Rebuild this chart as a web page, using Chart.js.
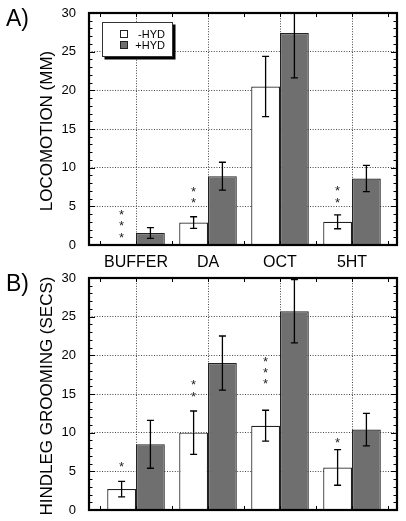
<!DOCTYPE html>
<html>
<head>
<meta charset="utf-8">
<script src="https://cdn.jsdelivr.net/npm/chart.js@4/dist/chart.umd.min.js"></script>
<style>
  html, body { margin: 0; padding: 0; background: #fff; }
  #wrap { position: relative; width: 406px; height: 521px; overflow: hidden; }
  canvas { position: absolute; left: 0; }
  #cA { top: 0; }
  #cB { top: 265px; }
</style>
</head>
<body>
<div id="wrap">
  <canvas id="cA" width="406" height="275"></canvas>
  <canvas id="cB" width="406" height="256"></canvas>
</div>
<script>
// data
const categories = ["BUFFER", "DA", "OCT", "5HT"];
const seriesNames = ["-HYD", "+HYD"];

const locoMinus = [0, 2.9, 20.5, 3.0];
const locoMinusErr = [null, 0.75, 3.9, 0.9];
const locoPlus = [1.55, 8.9, 27.4, 8.6];
const locoPlusErr = [0.7, 1.8, 5.8, 1.7];
const locoStars = [3, 2, 0, 2];
const locoStarY = [1.3, 5.7, null, 5.8];

const groomMinus = [2.7, 10.0, 10.9, 5.5];
const groomMinusErr = [1.0, 2.8, 2.0, 2.3];
const groomPlus = [8.5, 19.0, 25.7, 10.4];
const groomPlusErr = [3.1, 3.5, 4.1, 2.1];
const groomStars = [1, 2, 3, 1];
const groomStarY = [5.9, 15.0, 16.6, 9.0];

const yTicks = [0, 5, 10, 15, 20, 25, 30];
const gridX = [0.5, 1.5, 2.5];

const FONT = '"Liberation Sans", Arial, sans-serif';
const WHITE = "#ffffff";
const GRAY = "#6f6f6f";
const X_MIN = -0.653, X_MAX = 3.625;

function makePanel(canvasId, opt) {
  const { minus, minusErr, plus, plusErr, stars, starY, title, label, showX, showLegend, xHeight } = opt;

  const extras = {
    id: "extras_" + canvasId,
    afterDatasetsDraw(chart) {
      const ctx = chart.ctx;
      const y = chart.scales.y;
      const area = chart.chartArea;
      ctx.save();
      ctx.beginPath();
      ctx.rect(area.left, area.top - 1, area.right - area.left, area.bottom - area.top + 1);
      ctx.clip();
      // error bars
      const errs = [minusErr, plusErr];
      [minus, plus].forEach((vals, d) => {
        const meta = chart.getDatasetMeta(d);
        vals.forEach((v, i) => {
          const e = errs[d][i];
          if (e == null) return;
          const bx = meta.data[i].x;
          const yt = y.getPixelForValue(v + e);
          const yb = y.getPixelForValue(v - e);
          ctx.strokeStyle = "#000";
          ctx.lineWidth = 1.3;
          ctx.beginPath();
          ctx.moveTo(bx, yt); ctx.lineTo(bx, yb);
          ctx.moveTo(bx - 3.5, yt); ctx.lineTo(bx + 3.5, yt);
          ctx.moveTo(bx - 3.5, yb); ctx.lineTo(bx + 3.5, yb);
          ctx.stroke();
        });
      });
      ctx.restore();

      // asterisks
      const meta0 = chart.getDatasetMeta(0);
      ctx.save();
      ctx.fillStyle = "#222";
      ctx.font = "13px " + FONT;
      ctx.textAlign = "center";
      ctx.textBaseline = "middle";
      stars.forEach((n, i) => {
        if (!n) return;
        const bx = meta0.data[i].x;
        const y0 = y.getPixelForValue(starY[i]);
        for (let k = 0; k < n; k++) {
          ctx.fillText("*", bx, y0 - k * 11.3 + 3);
        }
      });
      ctx.restore();
    },
    afterDraw(chart) {
      const ctx = chart.ctx;
      const { left, right, top, bottom } = chart.chartArea;
      const y = chart.scales.y;
      const x = chart.scales.x;
      ctx.save();
      ctx.strokeStyle = "#000";
      // ticks ke dalam
      ctx.lineWidth = 1;
      ctx.beginPath();
      for (let v = 0; v <= 30; v++) {
        const py = Math.round(y.getPixelForValue(v)) + 0.5;
        const len = v % 5 === 0 ? 6 : 3.5;
        ctx.moveTo(left, py); ctx.lineTo(left + len, py);
        ctx.moveTo(right, py); ctx.lineTo(right - len, py);
      }
      for (let v = -0.5; v <= 3.5; v += 0.5) {
        const px = Math.round(x.getPixelForValue(v)) + 0.5;
        ctx.moveTo(px, top); ctx.lineTo(px, top + 4);
        ctx.moveTo(px, bottom); ctx.lineTo(px, bottom - 4);
      }
      ctx.stroke();
      // frame
      ctx.lineWidth = 2.2;
      ctx.strokeRect(left, top, right - left, bottom - top);

      // panel label + y title
      ctx.fillStyle = "#000";
      ctx.font = "23px " + FONT;
      ctx.textAlign = "left";
      ctx.textBaseline = "top";
      ctx.fillText(label, 6, top - 5);

      ctx.save();
      ctx.translate(47, (top + bottom) / 2 + 2);
      ctx.rotate(-Math.PI / 2);
      ctx.font = "17px " + FONT;
      ctx.textAlign = "center";
      ctx.textBaseline = "middle";
      ctx.fillText(title, 0, 0);
      ctx.restore();

      if (showLegend) {
        const lx = 102, ly = 22, lw = 71, lh = 35;
        ctx.fillStyle = "#000";
        ctx.fillRect(lx + 2.5, ly + 2.5, lw, lh);
        ctx.fillStyle = "#fff";
        ctx.fillRect(lx, ly, lw, lh);
        ctx.lineWidth = 1;
        ctx.strokeStyle = "#333";
        ctx.strokeRect(lx + 0.5, ly + 0.5, lw - 1, lh - 1);
        const fills = [WHITE, GRAY];
        seriesNames.forEach((name, k) => {
          const sy = ly + 8 + k * 11;
          ctx.fillStyle = fills[k];
          ctx.fillRect(120.5, sy + 0.5, 7, 7);
          ctx.strokeStyle = "#222";
          ctx.strokeRect(120.5, sy + 0.5, 7, 7);
          ctx.fillStyle = "#000";
          ctx.font = "11px " + FONT;
          ctx.textAlign = "right";
          ctx.textBaseline = "middle";
          ctx.fillText(name, 165, sy + 4.5);
        });
      }
      ctx.restore();
    },
  };

  return new Chart(document.getElementById(canvasId), {
    type: "bar",
    data: {
      datasets: [
        {
          label: seriesNames[0],
          data: minus.map((v, i) => ({ x: i, y: v })),
          backgroundColor: WHITE,
          borderColor: "#222",
          borderWidth: 1.2,
        },
        {
          label: seriesNames[1],
          data: plus.map((v, i) => ({ x: i, y: v })),
          backgroundColor: GRAY,
          borderColor: "#222",
          borderWidth: 1.2,
        },
      ],
    },
    options: {
      responsive: false,
      animation: false,
      devicePixelRatio: 1,
      categoryPercentage: 0.8,
      barPercentage: 1.0,
      layout: { padding: { top: 0, right: 9, left: 0, bottom: 0 } },
      plugins: { legend: { display: false }, tooltip: { enabled: false } },
      scales: {
        x: {
          type: "linear",
          offset: false,
          min: X_MIN,
          max: X_MAX,
          afterBuildTicks: (s) => { s.ticks = categories.map((c, i) => ({ value: i })); },
          afterFit: (s) => {
            s.height = xHeight;
            s.paddingLeft = 0; s.paddingRight = 0;
          },
          grid: { display: false, drawTicks: false },
          border: { display: false },
          ticks: {
            display: showX,
            padding: 8,
            color: "#000",
            font: { family: FONT, size: 16 },
            callback: (v) => categories[v],
          },
        },
        x2: {
          type: "linear",
          position: "top",
          offset: false,
          min: X_MIN,
          max: X_MAX,
          afterBuildTicks: (s) => { s.ticks = gridX.map((v) => ({ value: v })); },
          afterFit: (s) => {
            s.height = 13;
            s.paddingLeft = 0; s.paddingRight = 0;
          },
          grid: { color: "#444", lineWidth: 1, drawTicks: false },
          border: { display: false, dash: [1, 1.6] },
          ticks: { display: false },
        },
        y: {
          min: 0,
          max: 30,
          afterBuildTicks: (s) => { s.ticks = yTicks.map((v) => ({ value: v })); },
          afterFit: (s) => {
            s.width = 89;
            s.paddingTop = 0; s.paddingBottom = 0;
          },
          grid: { color: "#444", lineWidth: 1, drawTicks: false },
          border: { display: false, dash: [1, 1.6] },
          ticks: { padding: 13, color: "#000", font: { family: FONT, size: 13 } },
        },
      },
    },
    plugins: [extras],
  });
}

makePanel("cA", {
  minus: locoMinus, minusErr: locoMinusErr, plus: locoPlus, plusErr: locoPlusErr,
  stars: locoStars, starY: locoStarY,
  title: "LOCOMOTION (MM)", label: "A)", showX: true, showLegend: true, xHeight: 30,
});

makePanel("cB", {
  minus: groomMinus, minusErr: groomMinusErr, plus: groomPlus, plusErr: groomPlusErr,
  stars: groomStars, starY: groomStarY,
  title: "HINDLEG GROOMING (SECS)", label: "B)", showX: false, showLegend: false, xHeight: 11,
});
</script>
</body>
</html>
